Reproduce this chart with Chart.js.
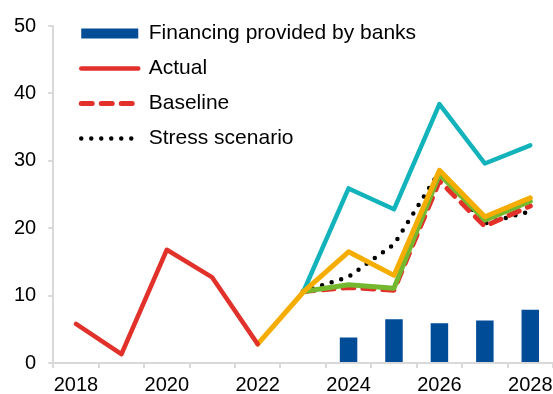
<!DOCTYPE html>
<html>
<head>
<meta charset="utf-8">
<script src="https://cdn.jsdelivr.net/npm/chart.js@4/dist/chart.umd.min.js"></script>
<style>
  body { margin: 0; background: #fff; }
  #wrap { width: 553px; height: 394px; }
</style>
</head>
<body>
<div id="wrap"><canvas id="chart"></canvas></div>
<script>
// values
var years = ['2018', '2019', '2020', '2021', '2022', '2023', '2024', '2025', '2026', '2027', '2028'];
var financing = [null, null, null, null, null, null, 3.8, 6.5, 5.9, 6.3, 7.9];
var actual = [5.8, 1.3, 16.8, 12.7, 2.8, null, null, null, null, null, null];
var baseline = [null, null, null, null, null, 10.6, 11.2, 10.8, 27.0, 20.3, 23.3];
var stress = [null, null, null, null, null, 10.6, 12.8, 17.6, 28.4, 20.7, 22.5];
var tealLine = [null, null, null, null, null, 10.5, 25.9, 22.8, 38.4, 29.6, 32.3];
var orangeLine = [null, null, null, null, 2.8, 10.5, 16.5, 13.0, 28.6, 21.7, 24.5];
var greenLine = [null, null, null, null, null, 10.6, 11.6, 11.1, 28.0, 21.2, 24.0];
var yTicks = [0, 10, 20, 30, 40, 50];

var grey = '#d9d9d9';

function lineSet(label, data, color, width, dash, inLegend) {
    return {
        type: 'line',
        label: label,
        data: data,
        borderColor: color,
        backgroundColor: color,
        borderWidth: width,
        borderDash: dash,
        borderCapStyle: 'round',
        borderJoinStyle: 'round',
        pointRadius: 0,
        fill: false,
        inLegend: inLegend
    };
}

var datasets = [
    {
        type: 'bar',
        label: 'Financing provided by banks',
        data: financing,
        backgroundColor: '#004c97',
        borderWidth: 0,
        barPercentage: 0.385,
        categoryPercentage: 1,
        inLegend: true
    },
    lineSet('Actual', actual, '#e1312a', 4.5, [], true),
    lineSet('Orange path', orangeLine, '#f4ad00', 5, [], false),
    lineSet('Green path', greenLine, '#74b82f', 5, [], false),
    lineSet('Baseline', baseline, '#e1312a', 5, [11, 9], true),
    lineSet('Stress scenario', stress, '#000000', 4.5, [0, 10], true),
    lineSet('Teal path', tealLine, '#12b3bb', 4.5, [], false)
];

// put the legend in the top left corner of the plot
var legendNudge = {
    id: 'legendNudge',
    afterLayout: function (chart) {
        chart.legend.left = chart.chartArea.left + 14;
        chart.legend.top = chart.chartArea.top - 17;
    }
};

new Chart(document.getElementById('chart').getContext('2d'), {
    type: 'bar',
    data: { labels: years, datasets: datasets },
    plugins: [legendNudge],
    options: {
        responsive: true,
        maintainAspectRatio: false,
        animation: false,
        layout: { padding: { left: 2, top: 26, right: 0, bottom: -8 } },
        plugins: {
            tooltip: { enabled: false },
            legend: {
                position: 'chartArea',
                align: 'start',
                labels: {
                    usePointStyle: true,
                    pointStyleWidth: 57,
                    boxHeight: 10,
                    padding: 14,
                    color: '#000',
                    font: { family: 'Liberation Sans', size: 21 },
                    generateLabels: function (chart) {
                        return chart.data.datasets.map(function (ds, i) {
                            return {
                                text: ds.label,
                                datasetIndex: i,
                                fillStyle: ds.type === 'bar' ? ds.backgroundColor : 'rgba(0,0,0,0)',
                                strokeStyle: ds.type === 'bar' ? ds.backgroundColor : ds.borderColor,
                                lineWidth: ds.type === 'bar' ? 0 : ds.borderWidth,
                                lineDash: ds.borderDash || [],
                                lineCap: ds.type === 'bar' ? 'butt' : 'round',
                                pointStyle: ds.type === 'bar' ? 'rect' : 'line',
                                hidden: false
                            };
                        }).filter(function (item) {
                            return chart.data.datasets[item.datasetIndex].inLegend;
                        });
                    }
                }
            }
        },
        scales: {
            x: {
                offset: true,
                afterFit: function (axis) {
                    axis.paddingLeft = 0;
                    axis.paddingRight = 0;
                },
                grid: { offset: true, drawOnChartArea: false, drawTicks: true, tickLength: 5, color: grey, lineWidth: 2 },
                border: { color: grey, width: 2 },
                ticks: {
                    autoSkip: false,
                    maxRotation: 0,
                    padding: 5,
                    color: '#000',
                    font: { family: 'Liberation Sans', size: 20 },
                    callback: function (value, index) {
                        return Number(years[index]) % 2 === 0 ? years[index] : '';
                    }
                }
            },
            y: {
                min: yTicks[0],
                max: yTicks[yTicks.length - 1],
                afterBuildTicks: function (axis) {
                    axis.ticks = yTicks.map(function (v) { return { value: v }; });
                },
                grid: { drawOnChartArea: false, drawTicks: true, tickLength: 5, color: grey, lineWidth: 2 },
                border: { color: grey, width: 2 },
                ticks: {
                    padding: 12,
                    color: '#000',
                    font: { family: 'Liberation Sans', size: 20 }
                }
            }
        }
    }
});
</script>
</body>
</html>
